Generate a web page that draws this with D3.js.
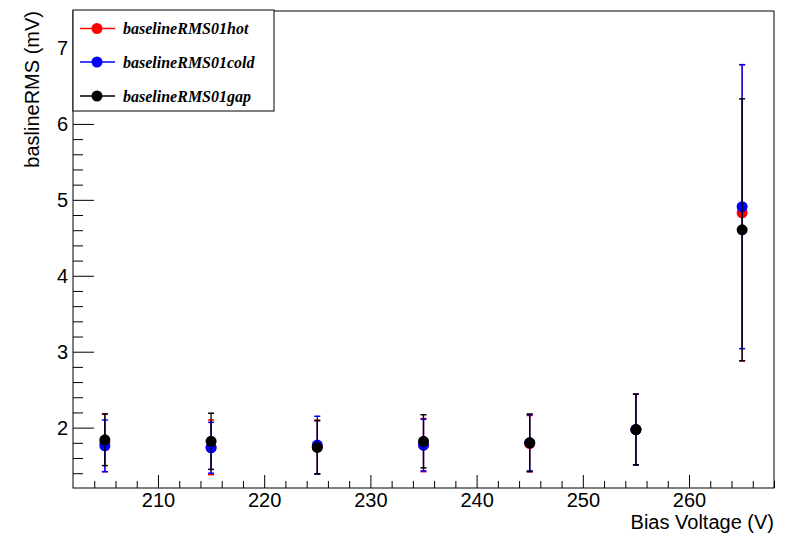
<!DOCTYPE html>
<html>
<head>
<meta charset="utf-8">
<script src="https://cdn.jsdelivr.net/npm/d3@7"></script>
<style>
html,body{margin:0;padding:0;background:#fff;}
svg{display:block;}
</style>
</head>
<body>
<svg id="chart" width="800" height="538"></svg>
<script>
// ---- data ----
const voltages = [205, 215, 225, 235, 245, 255, 265];
const hotValues  = [1.80, 1.74, 1.745, 1.77, 1.79, 1.975, 4.83];
const hotErrors  = [0.38, 0.36, 0.355, 0.35, 0.37, 0.465, 1.95];
const coldValues = [1.76, 1.735, 1.77, 1.77, 1.80, 1.975, 4.91];
const coldErrors = [0.34, 0.335, 0.38, 0.34, 0.37, 0.465, 1.87];
const gapValues  = [1.84, 1.82, 1.74, 1.82, 1.80, 1.975, 4.605];
const gapErrors  = [0.34, 0.37, 0.35, 0.35, 0.38, 0.465, 1.725];
const seriesNames = ["baselineRMS01hot", "baselineRMS01cold", "baselineRMS01gap"];
const seriesColors = ["#ff0000", "#0000ff", "#000000"];
const xTickValues = [210, 220, 230, 240, 250, 260];
const yTickValues = [2, 3, 4, 5, 6, 7];
const xTitle = "Bias Voltage (V)";
const yTitle = "baslineRMS (mV)";

const series = [
  {name: seriesNames[0], color: seriesColors[0], values: hotValues, errors: hotErrors},
  {name: seriesNames[1], color: seriesColors[1], values: coldValues, errors: coldErrors},
  {name: seriesNames[2], color: seriesColors[2], values: gapValues, errors: gapErrors}
];

// ---- layout ----
const L = 73, R = 774, T = 11, B = 488;
const svg = d3.select("#chart");
svg.append("rect").attr("width", 800).attr("height", 538).attr("fill", "#fff");

const x = d3.scaleLinear().domain([202, 268]).range([L, R]);
const y = d3.scaleLinear().domain([1.205, 7.487]).range([B, T]);

const sansFont = "'Liberation Sans', Arial, Helvetica, sans-serif";

// minor ticks
const xMinor = d3.range(204, 268.01, 2).filter(v => v % 10 !== 0);
const yMinor = d3.range(1.4, 7.49, 0.2).map(v => +v.toFixed(1)).filter(v => Math.abs(v - Math.round(v)) > 1e-6);

const gxMinor = svg.append("g").attr("transform", `translate(0,${B})`)
  .call(d3.axisBottom(x).tickValues(xMinor).tickSizeInner(-7).tickSizeOuter(0).tickFormat(""));
const gxMajor = svg.append("g").attr("transform", `translate(0,${B})`)
  .call(d3.axisBottom(x).tickValues(xTickValues).tickSizeInner(-13).tickSizeOuter(0).tickPadding(5).tickFormat(d3.format("d")));
const gyMinor = svg.append("g").attr("transform", `translate(${L},0)`)
  .call(d3.axisLeft(y).tickValues(yMinor).tickSizeInner(-10).tickSizeOuter(0).tickFormat(""));
const gyMajor = svg.append("g").attr("transform", `translate(${L},0)`)
  .call(d3.axisLeft(y).tickValues(yTickValues).tickSizeInner(-21).tickSizeOuter(0).tickPadding(5).tickFormat(d3.format("d")));

[gxMinor, gxMajor, gyMinor, gyMajor].forEach(g => {
  g.select(".domain").remove();
  g.selectAll("line").attr("stroke", "#000").attr("stroke-width", 1);
  g.selectAll("text").attr("font-family", sansFont).attr("font-size", 20).attr("fill", "#000");
});

// frame
svg.append("rect").attr("x", L).attr("y", T).attr("width", R - L).attr("height", B - T)
  .attr("fill", "none").attr("stroke", "#000").attr("stroke-width", 1);

// axis titles
svg.append("text").attr("x", R).attr("y", 529).attr("text-anchor", "end")
  .attr("font-family", sansFont).attr("font-size", 20).text(xTitle);
svg.append("text").attr("transform", `translate(39,${T}) rotate(-90)`).attr("text-anchor", "end")
  .attr("font-family", sansFont).attr("font-size", 20).text(yTitle);

// series
const capW = 3;
series.forEach(s => {
  const g = svg.append("g");
  const pts = voltages.map((v, i) => ({x: v, y: s.values[i], e: s.errors[i]}));
  g.selectAll("line.err").data(pts).enter().append("line")
    .attr("x1", d => x(d.x)).attr("x2", d => x(d.x))
    .attr("y1", d => y(d.y - d.e)).attr("y2", d => y(d.y + d.e))
    .attr("stroke", s.color).attr("stroke-width", 1.3);
  g.selectAll("line.capt").data(pts).enter().append("line")
    .attr("x1", d => x(d.x) - capW).attr("x2", d => x(d.x) + capW)
    .attr("y1", d => y(d.y + d.e)).attr("y2", d => y(d.y + d.e))
    .attr("stroke", s.color).attr("stroke-width", 1.5);
  g.selectAll("line.capb").data(pts).enter().append("line")
    .attr("x1", d => x(d.x) - capW).attr("x2", d => x(d.x) + capW)
    .attr("y1", d => y(d.y - d.e)).attr("y2", d => y(d.y - d.e))
    .attr("stroke", s.color).attr("stroke-width", 1.5);
  g.selectAll("circle").data(pts).enter().append("circle")
    .attr("cx", d => x(d.x)).attr("cy", d => y(d.y)).attr("r", 5.5)
    .attr("fill", s.color);
});

// legend
const lg = svg.append("g");
lg.append("rect").attr("x", 73).attr("y", 10).attr("width", 201).attr("height", 101)
  .attr("fill", "#fff").attr("stroke", "#000").attr("stroke-width", 1);
const legY = [28.5, 62, 96];
series.forEach((s, i) => {
  lg.append("line").attr("x1", 80).attr("x2", 115).attr("y1", legY[i]).attr("y2", legY[i])
    .attr("stroke", s.color).attr("stroke-width", 1.3);
  lg.append("circle").attr("cx", 97).attr("cy", legY[i]).attr("r", 5.5).attr("fill", s.color);
  lg.append("text").attr("x", 123).attr("y", legY[i]).attr("dy", "0.35em")
    .attr("font-family", "'Liberation Serif', 'Times New Roman', serif")
    .attr("font-weight", "bold").attr("font-style", "italic").attr("font-size", 16)
    .text(s.name);
});
</script>
</body>
</html>
